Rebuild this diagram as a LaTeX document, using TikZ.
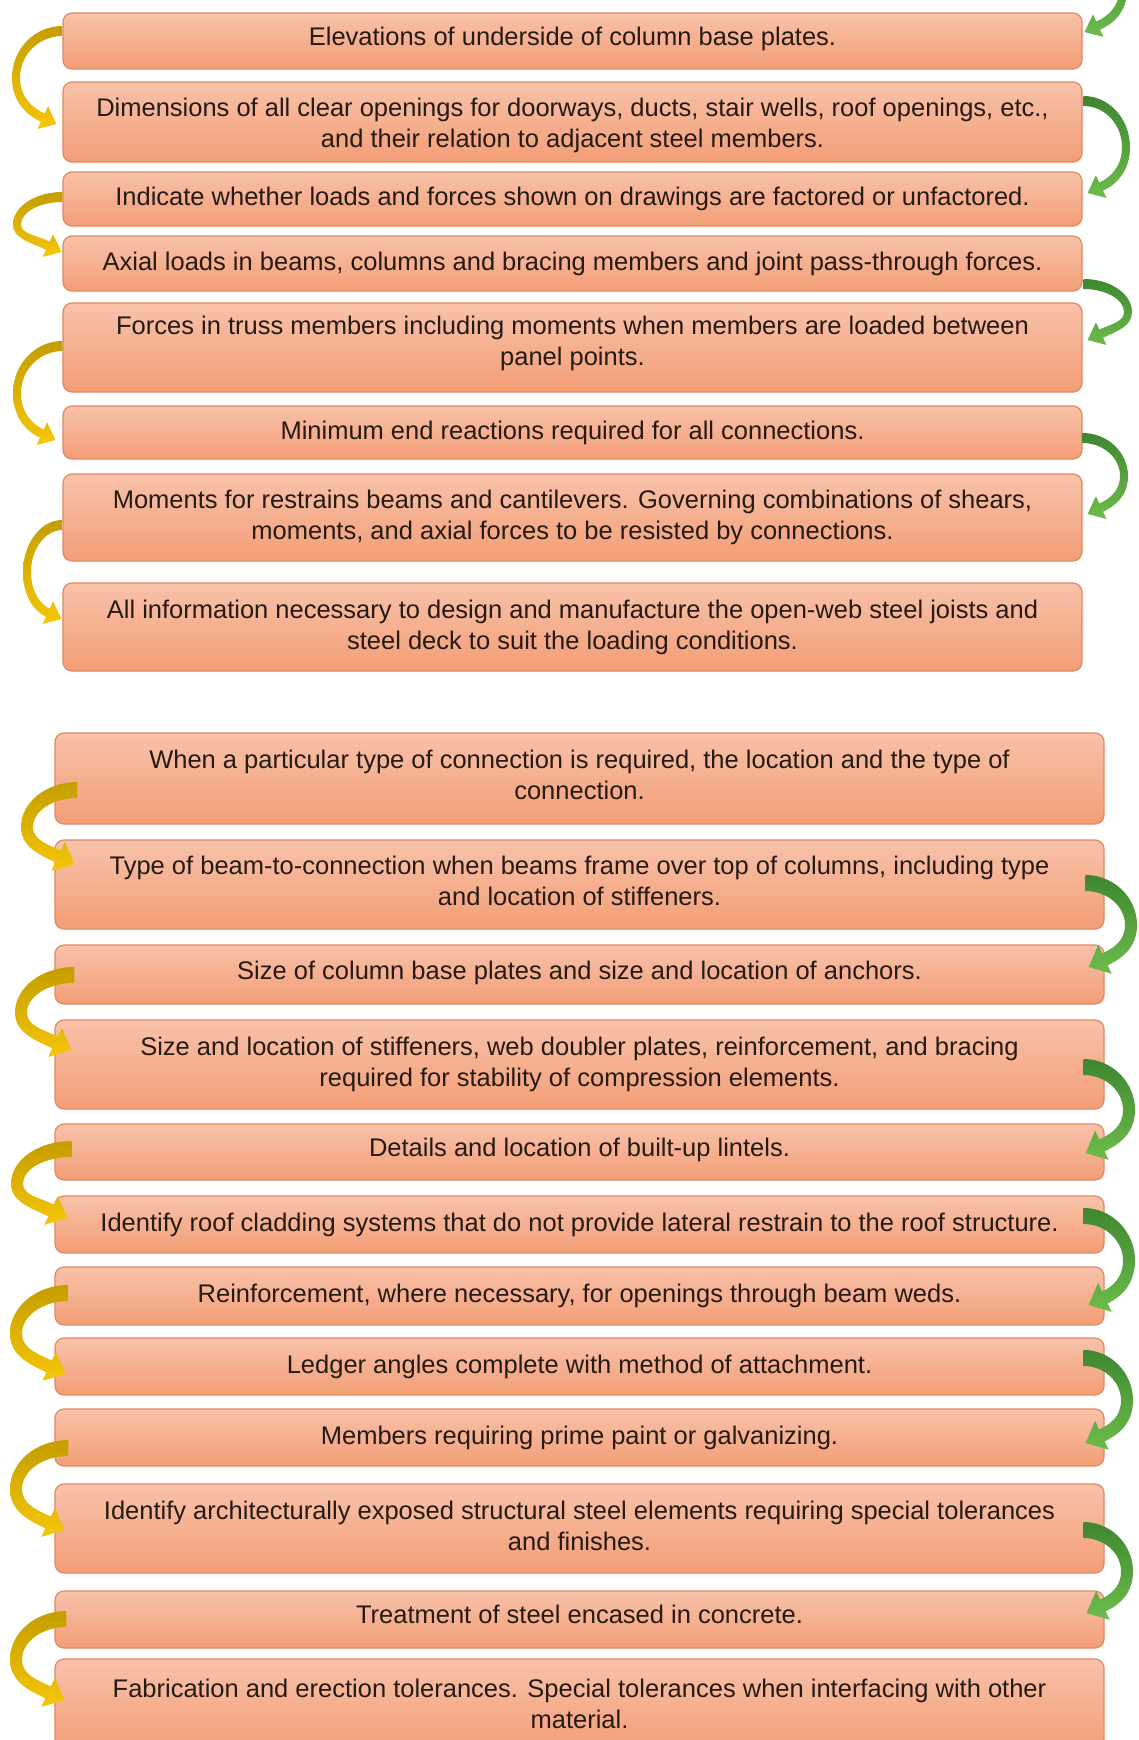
\documentclass[tikz,border=0pt]{standalone}
\usepackage{fontspec}
\setmainfont{Liberation Sans}
\usetikzlibrary{calc}
\definecolor{txt}{RGB}{38,26,20}
\definecolor{boxtop}{RGB}{248,194,170}
\definecolor{boxbot}{RGB}{243,158,118}
\definecolor{boxline}{RGB}{222,138,98}
\definecolor{ytop}{RGB}{196,158,0}
\definecolor{ybot}{RGB}{246,198,10}
\definecolor{gtop}{RGB}{62,135,48}
\definecolor{gbot}{RGB}{110,188,76}
\newdimen\qdx \newdimen\qdy
\newcommand\dn[1]{\rule[-#1]{0pt}{#1}}
\newcommand\hi[1]{\rule{0pt}{#1}}
% curved block arrow: #1 tail, #2 head tip, #3 extreme x (px), #4 side (-1 left, 1 right), #5 style
\newcommand\carrow[5]{%
 \pgfextractx{\qdx}{\pgfpointanchor{#1}{center}}\pgfextracty{\qdy}{\pgfpointanchor{#1}{center}}%
 \pgfmathsetmacro\qTx{\qdx}\pgfmathsetmacro\qTy{\qdy}%
 \pgfextractx{\qdx}{\pgfpointanchor{#2}{center}}\pgfextracty{\qdy}{\pgfpointanchor{#2}{center}}%
 \pgfmathsetmacro\qHx{\qdx}\pgfmathsetmacro\qHy{\qdy}%
 \pgfmathsetmacro\qS{#4}\pgfmathsetmacro\qE{#3}%
 \pgfmathsetmacro\qym{(\qTy+\qHy)/2}%
 \pgfmathsetmacro\qpsi{90+\qS*115}%
 \pgfmathsetmacro\qn{\qpsi-\qS*90}%
 \pgfmathsetmacro\qBx{\qHx+\HL*cos(\qpsi+180)}\pgfmathsetmacro\qBy{\qHy+\HL*sin(\qpsi+180)}%
 \pgfmathsetmacro\qBox{\qBx-\Ah*cos(\qn)}\pgfmathsetmacro\qBoy{\qBy-\Ah*sin(\qn)}%
 \pgfmathsetmacro\qBix{\qBx+\Ah*cos(\qn)}\pgfmathsetmacro\qBiy{\qBy+\Ah*sin(\qn)}%
 \pgfmathsetmacro\qWox{\qBx-\HW*cos(\qn)}\pgfmathsetmacro\qWoy{\qBy-\HW*sin(\qn)}%
 \pgfmathsetmacro\qWix{\qBx+\HW*cos(\qn)}\pgfmathsetmacro\qWiy{\qBy+\HW*sin(\qn)}%
 \pgfmathsetmacro\qToy{\qTy+\At}\pgfmathsetmacro\qTiy{\qTy-\At}%
 \pgfmathsetmacro\qMox{\qE+\qS*\Am}\pgfmathsetmacro\qMix{\qE-\qS*\Am}%
 \pgfmathsetmacro\qAox{\qTx+\qS*0.55*abs(\qMox-\qTx)}%
 \pgfmathsetmacro\qAoy{\qym+0.55*(\qToy-\qym)}%
 \pgfmathsetmacro\qCoy{\qym-0.55*(\qym-\qBoy)}%
 \pgfmathsetmacro\qko{0.55*abs(\qBox-\qMox)}%
 \pgfmathsetmacro\qDox{\qBox+\qko*cos(\qpsi+180)}\pgfmathsetmacro\qDoy{\qBoy+\qko*sin(\qpsi+180)}%
 \pgfmathsetmacro\qki{0.55*abs(\qBix-\qMix)}%
 \pgfmathsetmacro\qDix{\qBix+\qki*cos(\qpsi+180)}\pgfmathsetmacro\qDiy{\qBiy+\qki*sin(\qpsi+180)}%
 \pgfmathsetmacro\qCiy{\qym-0.55*(\qym-\qBiy)}%
 \pgfmathsetmacro\qAiy{\qym+0.55*(\qTiy-\qym)}%
 \pgfmathsetmacro\qAix{\qTx+\qS*0.55*abs(\qMix-\qTx)}%
 \path[#5] (\qTx pt,\qToy pt) .. controls (\qAox pt,\qToy pt) and (\qMox pt,\qAoy pt) .. (\qMox pt,\qym pt)
   .. controls (\qMox pt,\qCoy pt) and (\qDox pt,\qDoy pt) .. (\qBox pt,\qBoy pt)
   -- (\qWox pt,\qWoy pt) -- (\qHx pt,\qHy pt) -- (\qWix pt,\qWiy pt) -- (\qBix pt,\qBiy pt)
   .. controls (\qDix pt,\qDiy pt) and (\qMix pt,\qCiy pt) .. (\qMix pt,\qym pt)
   .. controls (\qMix pt,\qAiy pt) and (\qAix pt,\qTiy pt) .. (\qTx pt,\qTiy pt) -- cycle;
}
\begin{document}
\begin{tikzpicture}[x=1pt,y=-1pt,
  box/.style={draw=boxline, line width=1.2pt, rounded corners=9pt, top color=boxtop, bottom color=boxbot,
    text=txt, align=center, inner sep=0pt, font=\fontsize{25.5}{31}\selectfont},
  tbox/.style={box, minimum width=1019pt},
  bbox/.style={box, minimum width=1049pt},
  yarr/.style={top color=ytop, bottom color=ybot},
  garr/.style={top color=gtop, bottom color=gbot}]
\useasboundingbox (0,0) rectangle (1138,1740);
\fill[white] (0,0) rectangle (1138,1740);
\clip (0,0) rectangle (1138,1740);
% top group
\node[tbox, minimum height=56pt] (b1) at (572.5,41) {Elevations of underside of column base plates.\dn{9.5pt}};
\node[tbox, minimum height=80pt] (b2) at (572.5,122) {\hi{25pt}Dimensions of all clear openings for doorways, ducts, stair wells, roof openings, etc.,\\ and their relation to adjacent steel members.};
\node[tbox, minimum height=54pt] (b3) at (572.5,199) {Indicate whether loads and forces shown on drawings are factored or unfactored.};
\node[tbox, minimum height=55pt] (b4) at (572.5,263.5) {Axial loads in beams, columns and bracing members and joint pass-through forces.};
\node[tbox, minimum height=89pt] (b5) at (572.5,347.5) {Forces in truss members including moments when members are loaded between\\ panel points.\dn{13.5pt}};
\node[tbox, minimum height=53pt] (b6) at (572.5,432.5) {Minimum end reactions required for all connections.};
\node[tbox, minimum height=87pt] (b7) at (572.5,517.5) {Moments for restrains beams and cantilevers. Governing combinations of shears,\\ moments, and axial forces to be resisted by connections.};
\node[tbox, minimum height=88pt] (b8) at (572.5,627) {All information necessary to design and manufacture the open-web steel joists and\\ steel deck to suit the loading conditions.};
% bottom group
\node[bbox, minimum height=91pt] (b9) at (579.5,778.5) {When a particular type of connection is required, the location and the type of\\ connection.\dn{8pt}};
\node[bbox, minimum height=89pt] (b10) at (579.5,884.5) {Type of beam-to-connection when beams frame over top of columns, including type\\ and location of stiffeners.\dn{8pt}};
\node[bbox, minimum height=59pt] (b11) at (579.5,974.5) {Size of column base plates and size and location of anchors.\dn{9.5pt}};
\node[bbox, minimum height=89pt] (b12) at (579.5,1064.5) {Size and location of stiffeners, web doubler plates, reinforcement, and bracing\\ required for stability of compression elements.};
\node[bbox, minimum height=56pt] (b13) at (579.5,1152) {Details and location of built-up lintels.\dn{9.5pt}};
\node[bbox, minimum height=57pt] (b14) at (579.5,1224.5) {Identify roof cladding systems that do not provide lateral restrain to the roof structure.};
\node[bbox, minimum height=58pt] (b15) at (579.5,1296) {Reinforcement, where necessary, for openings through beam weds.};
\node[bbox, minimum height=57pt] (b16) at (579.5,1366.5) {Ledger angles complete with method of attachment.};
\node[bbox, minimum height=57pt] (b17) at (579.5,1437.5) {Members requiring prime paint or galvanizing.};
\node[bbox, minimum height=89pt] (b18) at (579.5,1528.5) {Identify architecturally exposed structural steel elements requiring special tolerances\\ and finishes.\dn{6pt}};
\node[bbox, minimum height=57pt] (b19) at (579.5,1619.5) {Treatment of steel encased in concrete.\dn{10pt}};
\node[bbox, minimum height=90pt] (b20) at (579.5,1704) {Fabrication and erection tolerances. Special tolerances when interfacing with other\\ material.};
% arrow end points
\coordinate (a1t) at ([yshift=10pt]b1.west);   \coordinate (a1h) at ([xshift=-6pt,yshift=-2pt]b2.west);
\coordinate (a2t) at ([yshift=2pt]b3.west);    \coordinate (a2h) at ([xshift=-1pt,yshift=11.5pt]b4.west);
\coordinate (a3t) at ([yshift=1.5pt]b5.west);  \coordinate (a3h) at ([xshift=-7pt,yshift=-7.5pt]b6.west);
\coordinate (a4t) at ([yshift=-7.5pt]b7.west); \coordinate (a4h) at ([xshift=-1pt,yshift=8pt]b8.west);
\coordinate (g0t) at (1083,-52);               \coordinate (g0h) at ([xshift=2pt,yshift=9pt]b1.east);
\coordinate (g1t) at ([xshift=1pt,yshift=21pt]b2.east);  \coordinate (g1h) at ([xshift=5pt,yshift=6pt]b3.east);
\coordinate (g2t) at ([xshift=1pt,yshift=-20.5pt]b4.east); \coordinate (g2h) at ([xshift=5pt,yshift=7.5pt]b5.east);
\coordinate (g3t) at ([yshift=-5.5pt]b6.east); \coordinate (g3h) at ([xshift=5pt,yshift=3.5pt]b7.east);
\coordinate (a5t) at ([xshift=23pt,yshift=-11.5pt]b9.west);  \coordinate (a5h) at ([xshift=20pt,yshift=20.5pt]b10.west);
\coordinate (a6t) at ([xshift=20pt,yshift=-0.5pt]b11.west);  \coordinate (a6h) at ([xshift=17pt,yshift=14.5pt]b12.west);
\coordinate (a7t) at ([xshift=17pt,yshift=3pt]b13.west);     \coordinate (a7h) at ([xshift=13pt,yshift=6.5pt]b14.west);
\coordinate (a8t) at ([xshift=14pt,yshift=3pt]b15.west);     \coordinate (a8h) at ([xshift=11pt,yshift=-7.5pt]b16.west);
\coordinate (a9t) at ([xshift=14pt,yshift=-10.5pt]b17.west); \coordinate (a9h) at ([xshift=10pt,yshift=-1.5pt]b18.west);
\coordinate (a10t) at ([xshift=12pt,yshift=0.5pt]b19.west);  \coordinate (a10h) at ([xshift=10pt,yshift=4pt]b20.west);
\coordinate (g4t) at ([xshift=-19pt,yshift=1.5pt]b10.east);  \coordinate (g4h) at ([xshift=-16pt,yshift=7.5pt]b11.east);
\coordinate (g5t) at ([xshift=-21pt,yshift=-2.5pt]b12.east); \coordinate (g5h) at ([xshift=-19pt,yshift=-1pt]b13.east);
\coordinate (g6t) at ([xshift=-21pt,yshift=8.5pt]b14.east);  \coordinate (g6h) at ([xshift=-16pt,yshift=-9pt]b15.east);
\coordinate (g7t) at ([xshift=-21pt,yshift=8.5pt]b16.east);  \coordinate (g7h) at ([xshift=-19pt,yshift=-5.5pt]b17.east);
\coordinate (g8t) at ([xshift=-21pt,yshift=-1.5pt]b18.east); \coordinate (g8h) at ([xshift=-18pt,yshift=6.5pt]b19.east);
% top arrows
\def\At{5}\def\Am{4}\def\Ah{4.5}\def\HL{15}\def\HW{12.5}
\carrow{a1t}{a1h}{16}{-1}{yarr}
\carrow{a2t}{a2h}{17}{-1}{yarr}
\carrow{a3t}{a3h}{17}{-1}{yarr}
\carrow{a4t}{a4h}{27}{-1}{yarr}
\carrow{g0t}{g0h}{1123}{1}{garr}
\carrow{g1t}{g1h}{1126}{1}{garr}
\carrow{g2t}{g2h}{1128}{1}{garr}
\carrow{g3t}{g3h}{1124}{1}{garr}
% bottom arrows
\def\At{8}\def\Am{6}\def\Ah{6.5}\def\HL{18}\def\HW{16}
\carrow{a5t}{a5h}{27}{-1}{yarr}
\carrow{a6t}{a6h}{21}{-1}{yarr}
\carrow{a7t}{a7h}{17}{-1}{yarr}
\carrow{a8t}{a8h}{16}{-1}{yarr}
\carrow{a9t}{a9h}{16}{-1}{yarr}
\carrow{a10t}{a10h}{16}{-1}{yarr}
\carrow{g4t}{g4h}{1131}{1}{garr}
\carrow{g5t}{g5h}{1129}{1}{garr}
\carrow{g6t}{g6h}{1129}{1}{garr}
\carrow{g7t}{g7h}{1127}{1}{garr}
\carrow{g8t}{g8h}{1127}{1}{garr}
\end{tikzpicture}
\end{document}
